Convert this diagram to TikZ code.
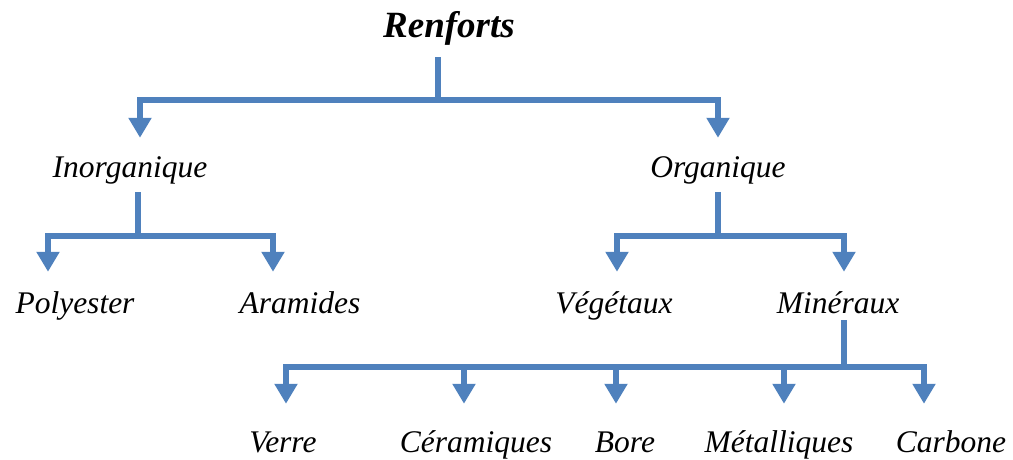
\documentclass[tikz,border=0pt]{standalone}
\usepackage{fontspec}
\setmainfont{Liberation Serif}
\usetikzlibrary{arrows.meta}
\definecolor{branch}{RGB}{79,129,189}
\begin{document}
\begin{tikzpicture}[x=1pt,y=-1pt,
  line/.style={draw=branch, line width=5.5pt},
  arr/.style={line, -{Triangle[width=22pt,length=20pt]}},
  lbl/.style={inner sep=0pt, anchor=base, text height=22pt, text depth=7pt,
    font=\fontsize{31.5}{36}\selectfont\itshape},
  row1/.style={arr, shorten >=17pt},
  row2/.style={arr, shorten >=19pt},
  row3/.style={arr, shorten >=26pt},
]
\useasboundingbox (0,0) rectangle (1013,459);

% labels
\node[inner sep=0pt, anchor=base, text height=27pt, text depth=20pt,
  font=\fontsize{37}{42}\selectfont\bfseries\itshape] (R) at (449,37) {Renforts};
\node[lbl] (inorg) at (130,177) {Inorganique};
\node[lbl] (org)   at (718,177) {Organique};
\node[lbl] (poly)  at (75,313)  {Polyester};
\node[lbl] (aram)  at (300,313) {Aramides};
\node[lbl] (veg)   at (614,313) {Végétaux};
\node[lbl] (min)   at (838,313) {Minéraux};
\node[lbl] (verre) at (283,452) {Verre};
\node[lbl] (ceram) at (476,452) {Céramiques};
\node[lbl] (bore)  at (625,452) {Bore};
\node[lbl] (metal) at (779,452) {Métalliques};
\node[lbl] (carb)  at (951,452) {Carbone};

% branching points
\coordinate (bR) at (438,100);
\coordinate (bI) at (138,236);
\coordinate (bO) at (718,236);
\coordinate (bM) at (844,367);

% first level
\draw[line] (R.south -| bR) -- (bR);
\draw[row1] (bR) -| ([xshift=10pt]inorg.north);
\draw[row1] (bR) -| (org.north);

% inorganic branch
\draw[line, shorten <=8pt] (inorg.south -| bI) -- (bI);
\draw[row2] (bI) -| ([xshift=-27pt]poly.north);
\draw[row2] (bI) -| ([xshift=-27pt]aram.north);

% organic branch
\draw[line, shorten <=8pt] (org.south -| bO) -- (bO);
\draw[row2] (bO) -| ([xshift=3pt]veg.north);
\draw[row2] (bO) -| ([xshift=6pt]min.north);

% mineral branch
\draw[line] (min.south -| bM) -- (bM);
\draw[row3] (bM) -| ([xshift=3pt]verre.north);
\draw[row3] (bM) -| ([xshift=-12pt]ceram.north);
\draw[row3] (bM) -| ([xshift=-9pt]bore.north);
\draw[row3] (bM) -| ([xshift=5pt]metal.north);
\draw[row3] (bM) -| ([xshift=-27pt]carb.north);
\end{tikzpicture}
\end{document}
